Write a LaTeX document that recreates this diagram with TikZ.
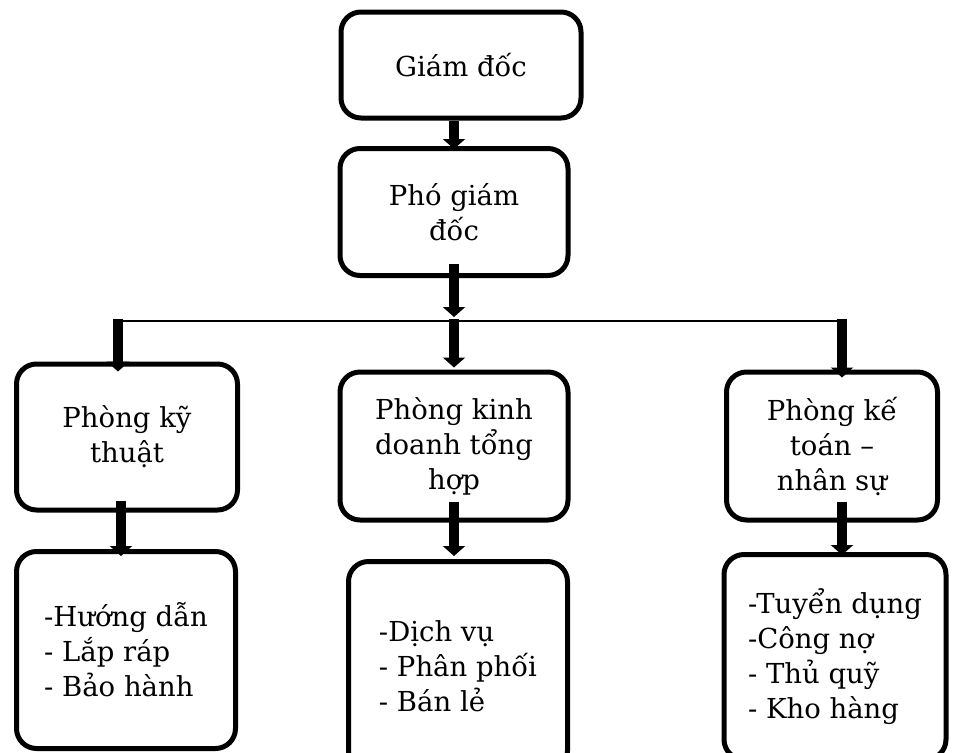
\documentclass[tikz,border=0pt]{standalone}
\usepackage{fontspec}
\setmainfont{DejaVu Serif}
\usetikzlibrary{positioning}
\usetikzlibrary{arrows.meta}

\begin{document}
\begin{tikzpicture}[x=1pt, y=-1pt, font=\fontsize{27.5}{35}\selectfont,
        unitbox/.style={draw, rectangle, rounded corners=20pt, line width=5pt, fill=white, align=center, inner sep=0pt},
        listbox/.style={unitbox, align=left},
        bigarrow/.style={line width=10pt, -{Triangle[width=22pt,length=10pt]}}]
        \useasboundingbox (0,0) rectangle (954,753);
        \clip (0,0) rectangle (954,753);
        \node [unitbox, minimum width=240pt, minimum height=106pt] (gd) at (461,65) {Giám đốc};
        \node [unitbox, minimum width=228pt, minimum height=127pt] (pgd) at (454,212) {Phó giám\\đốc};
        \node [unitbox, minimum width=221pt, minimum height=146pt] (kt) at (127,437) {Phòng kỹ\\thuật};
        \node [unitbox, minimum width=228pt, minimum height=148pt] (kd) at (454,446) {Phòng kinh\\doanh tổng\\hợp};
        \node [unitbox, minimum width=211pt, minimum height=148pt] (ktns) at (832,446) {Phòng kế\\toán –\\nhân sự};
        \node [listbox, minimum width=219pt, minimum height=197pt] (kt2) at (126,650) {-Hướng dẫn\\- Lắp ráp\\- Bảo hành};
        \node [listbox, minimum width=219pt, minimum height=209pt] (kd2) at (458,666) {-Dịch vụ\\- Phân phối\\- Bán lẻ};
        \node [listbox, minimum width=222pt, minimum height=205pt] (ktns2) at (835,657) {-Tuyển dụng\\-Công nợ\\- Thủ quỹ\\- Kho hàng};
        \coordinate (bus) at (454,321);
        \coordinate (busL) at (118,321);
        \coordinate (busR) at (842,321);
        \draw [line width=1.5pt] (busL) -- (busR);
        \draw [bigarrow] (gd.south -| pgd.north) -- ([yshift=-3pt]pgd.north);
        \draw [bigarrow] ([yshift=14pt]pgd.south) -- ([yshift=4pt]bus);
        \draw [bigarrow] ([yshift=2pt]bus) -- ([yshift=2pt]bus |- kd.north);
        \draw [bigarrow] ([yshift=2pt]busL) -- ([yshift=-10pt]busL |- kt.north);
        \draw [bigarrow] ([yshift=2pt]busR) -- ([yshift=-8pt]busR |- ktns.north);
        \draw [bigarrow] ([xshift=-6pt,yshift=12pt]kt.south) -- ([xshift=-5pt,yshift=-7pt]kt2.north);
        \draw [bigarrow] ([yshift=21pt]kd.south) -- ([xshift=-4pt,yshift=3pt]kd2.north);
        \draw [bigarrow] ([xshift=10pt,yshift=21pt]ktns.south) -- ([xshift=7pt,yshift=-3pt]ktns2.north);
    \end{tikzpicture}
\end{document}
